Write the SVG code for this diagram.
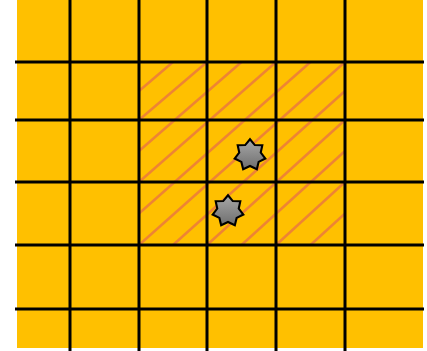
<svg xmlns="http://www.w3.org/2000/svg" width="427" height="351" viewBox="0 0 427 351">
  <style>
    .grid { stroke: #000; stroke-width: 3; fill: none; }
    .hatch { stroke: #EE8434; stroke-width: 2.5; fill: none; }
    .star { fill: url(#starGrad); stroke: #000; stroke-width: 2; stroke-linejoin: miter; }
  </style>
  <defs>
    <linearGradient id="starGrad" x1="0" y1="0" x2="0" y2="1">
      <stop offset="0" stop-color="#A8A8A8"/>
      <stop offset="1" stop-color="#6E6E6E"/>
    </linearGradient>
    <polygon id="star7" points="0,-15 4.56,-9.46 11.73,-9.35 10.24,-2.34 14.62,3.34 8.21,6.55 6.51,13.52 0,10.5 -6.51,13.52 -8.21,6.55 -14.62,3.34 -10.24,-2.34 -11.73,-9.35 -4.56,-9.46"/>
  </defs>
  <rect id="background" x="17" y="0" width="406" height="348" fill="#FFC000"/>
  <g id="hatching" class="hatch">
    <line x1="139" y1="91" x2="173" y2="62"/>
    <line x1="139" y1="120" x2="207" y2="62"/>
    <line x1="139" y1="151" x2="241.5" y2="62"/>
    <line x1="139" y1="182" x2="276" y2="62"/>
    <line x1="139" y1="213.5" x2="310.5" y2="62"/>
    <line x1="139" y1="245" x2="345" y2="62"/>
    <line x1="173" y1="245" x2="345" y2="91"/>
    <line x1="207" y1="245" x2="345" y2="120"/>
    <line x1="241.5" y1="245" x2="345" y2="151"/>
    <line x1="276" y1="245" x2="345" y2="182"/>
    <line x1="310.5" y1="245" x2="345" y2="213.5"/>
  </g>
  <g id="grid" class="grid">
    <line x1="70" y1="0" x2="70" y2="351"/>
    <line x1="139" y1="0" x2="139" y2="351"/>
    <line x1="207" y1="0" x2="207" y2="351"/>
    <line x1="276" y1="0" x2="276" y2="351"/>
    <line x1="345" y1="0" x2="345" y2="351"/>
    <line x1="15" y1="62" x2="424" y2="62"/>
    <line x1="15" y1="120" x2="424" y2="120"/>
    <line x1="15" y1="182" x2="424" y2="182"/>
    <line x1="15" y1="245" x2="424" y2="245"/>
    <line x1="15" y1="309" x2="424" y2="309"/>
  </g>
  <g id="star1">
    <use href="#star7" class="star" transform="translate(250,155) scale(1.05)"/>
  </g>
  <g id="star2">
    <use href="#star7" class="star" transform="translate(228,211) scale(1.05)"/>
  </g>
</svg>
